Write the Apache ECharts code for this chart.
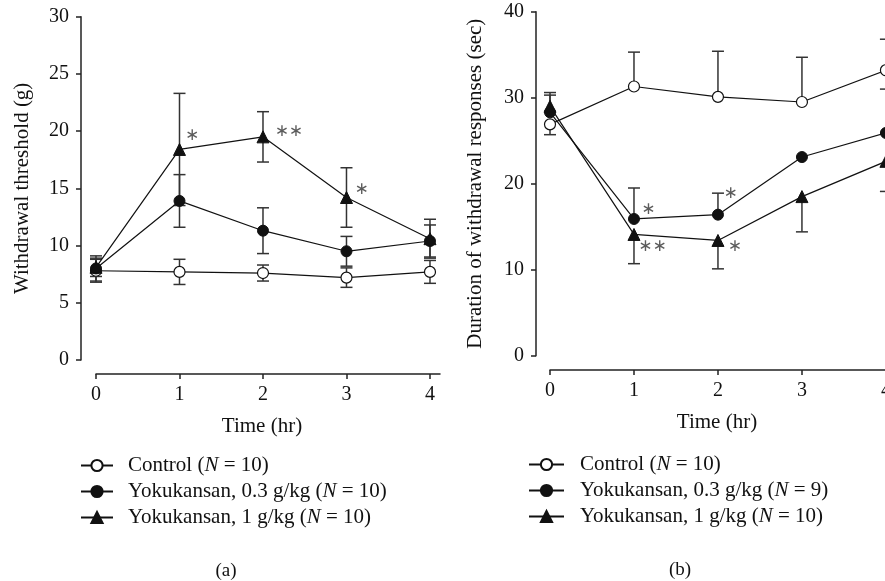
<!DOCTYPE html>
<html><head><meta charset="utf-8">
<script src="https://cdn.jsdelivr.net/npm/echarts@6/dist/echarts.min.js"></script>
<style>html,body{margin:0;padding:0;background:#fff}#c{width:885px;height:581px}</style>
</head><body><div id="c"></div>
<script>
// ---------- data ----------
const timeTicks = [0, 1, 2, 3, 4];
const hours = [0, 1, 2, 3, 4];

// panel (a): withdrawal threshold (g), symmetric error bars
const aControl = [7.8, 7.7, 7.6, 7.2, 7.7];
const aControlErr = [1.0, 1.1, 0.7, 0.85, 1.0];
const aLow = [8.0, 13.9, 11.3, 9.5, 10.4];
const aLowErr = [1.1, 2.3, 2.0, 1.3, 1.4];
const aHigh = [8.1, 18.4, 19.5, 14.2, 10.6];
const aHighErr = [0.8, 4.9, 2.2, 2.6, 1.7];
const aTicks = [0, 5, 10, 15, 20, 25, 30];

// panel (b): duration of withdrawal responses (sec), one-sided error bars
const bControl = [26.9, 31.3, 30.1, 29.5, 33.2];
const bControlUp = [0, 4.0, 5.3, 5.2, 3.6];
const bControlDown = [1.2, 0, 0, 0, 0];
const bLow = [28.3, 15.9, 16.4, 23.1, 25.9];
const bLowUp = [2.0, 3.6, 2.5, 0, 5.1];
const bLowDown = [0, 0, 0, 0, 0];
const bHigh = [29.0, 14.1, 13.4, 18.5, 22.6];
const bHighUp = [1.6, 0, 0, 0, 0];
const bHighDown = [0, 3.4, 3.3, 4.1, 3.5];
const bTicks = [0, 10, 20, 30, 40];

// significance marks
const aStarX = [1.15, 2.31, 3.18];
const aStarY = [19.6, 20.0, 14.9];
const aStarText = ['\u2217', '\u2217\u2217', '\u2217'];
const bStarX = [1.17, 1.22, 2.15, 2.20];
const bStarY = [17.0, 12.7, 18.9, 12.7];
const bStarText = ['\u2217', '\u2217\u2217', '\u2217', '\u2217'];

const namesA = ['Control (N = 10)', 'Yokukansan, 0.3 g/kg (N = 10)', 'Yokukansan, 1 g/kg (N = 10)'];
const namesB = ['Control (N = 10)', 'Yokukansan, 0.3 g/kg (N = 9)', 'Yokukansan, 1 g/kg (N = 10)'];

// ---------- chart ----------
const FONT = 'Liberation Serif';
const INK = '#111';
const chart = echarts.init(document.getElementById('c'), null, {renderer: 'canvas'});

function pts(vals) { return hours.map((h, i) => [h, vals[i]]); }
function errData(vals, up, down) { return hours.map((h, i) => [h, vals[i], up[i], down[i]]); }
function starData(xs, ys, ts) { return xs.map((x, i) => [x, ys[i], ts[i]]); }

function renderErr(params, api) {
  const x = api.value(0), y = api.value(1), up = api.value(2), dn = api.value(3);
  const c = api.coord([x, y]);
  const half = 6;
  const st = {stroke: '#333', lineWidth: 1.5};
  const ch = [];
  if (up > 0) {
    const t = api.coord([x, y + up]);
    ch.push({type: 'line', shape: {x1: c[0], y1: c[1], x2: t[0], y2: t[1]}, style: st});
    ch.push({type: 'line', shape: {x1: t[0] - half, y1: t[1], x2: t[0] + half, y2: t[1]}, style: st});
  }
  if (dn > 0) {
    const b = api.coord([x, y - dn]);
    ch.push({type: 'line', shape: {x1: c[0], y1: c[1], x2: b[0], y2: b[1]}, style: st});
    ch.push({type: 'line', shape: {x1: b[0] - half, y1: b[1], x2: b[0] + half, y2: b[1]}, style: st});
  }
  return {type: 'group', children: ch};
}

// grid index: panel p -> data grid 3p, y-axis grid 3p+1, x-axis grid 3p+2
function errSeries(data, p) {
  return {type: 'custom', renderItem: renderErr, data: data, xAxisIndex: 3 * p, yAxisIndex: 3 * p, z: 1, silent: true, clip: false};
}
const styles = [
  {symbol: 'circle', size: 11, itemStyle: {color: '#fff', borderColor: INK, borderWidth: 1.2}},
  {symbol: 'circle', size: 11, itemStyle: {color: INK, borderColor: INK, borderWidth: 1}},
  {symbol: 'triangle', size: 12, itemStyle: {color: INK, borderColor: INK, borderWidth: 1}}
];
function lineSeries(name, vals, k, p) {
  return {
    type: 'line', name: name, data: pts(vals), xAxisIndex: 3 * p, yAxisIndex: 3 * p,
    symbol: styles[k].symbol, symbolSize: styles[k].size, itemStyle: styles[k].itemStyle,
    lineStyle: {color: INK, width: 1.2}, z: 3 + k, animation: false, clip: false
  };
}
function starSeries(data, p) {
  return {
    type: 'scatter', data: data, xAxisIndex: 3 * p, yAxisIndex: 3 * p, symbolSize: 1,
    itemStyle: {color: 'rgba(0,0,0,0)'}, z: 5, silent: true,
    label: {show: true, position: 'inside', formatter: q => q.value[2], color: '#333',
      fontFamily: 'DejaVu Sans', fontSize: 17, align: 'center', verticalAlign: 'middle'}
  };
}

const axisLineStyle = {color: '#222', width: 1.5};
const XMAX = 4.12;
function hiddenX(gi) { return {type: 'value', gridIndex: gi, min: 0, max: XMAX, show: false}; }
function hiddenY(gi, max) { return {type: 'value', gridIndex: gi, min: 0, max: max, show: false}; }
function shownX(gi) {
  return {
    type: 'value', gridIndex: gi, min: 0, max: XMAX, interval: 1,
    name: 'Time (hr)', nameLocation: 'middle', nameGap: 42, nameMoveOverlap: false,
    nameTextStyle: {fontFamily: FONT, fontSize: 21, color: INK, padding: [0, 12, 0, 0]},
    axisLine: {show: true, lineStyle: axisLineStyle},
    axisTick: {show: true, length: 5, inside: false, lineStyle: axisLineStyle, customValues: timeTicks},
    axisLabel: {fontFamily: FONT, fontSize: 20, color: INK, margin: 11, customValues: timeTicks},
    splitLine: {show: false}
  };
}
function shownY(gi, max, interval, name, gap, ticks) {
  return {
    type: 'value', gridIndex: gi, min: 0, max: max, interval: interval,
    name: name, nameLocation: 'middle', nameGap: gap, nameMoveOverlap: false,
    nameTextStyle: {fontFamily: FONT, fontSize: 21, color: INK},
    axisLine: {show: true, lineStyle: axisLineStyle},
    axisTick: {show: true, length: 5, inside: false, lineStyle: axisLineStyle, customValues: ticks},
    axisLabel: {fontFamily: FONT, fontSize: 20, color: INK, margin: 12, customValues: ticks},
    splitLine: {show: false}
  };
}
function legendFmt(name) {
  const m = name.match(/^(.*\()N( = .*)$/);
  if (!m) return name;
  return '{t|' + m[1] + '}{i|N}{t|' + m[2] + '}';
}
function legend(names, left, top, itemWidth, pad) {
  return {
    data: names, orient: 'vertical', left: left, top: top, itemWidth: itemWidth, itemHeight: 14,
    itemGap: 5, selectedMode: false, formatter: legendFmt,
    textStyle: {fontFamily: FONT, fontSize: 21, color: INK, padding: [0, 0, 0, pad],
      rich: {t: {fontFamily: FONT, fontSize: 21, color: INK},
             i: {fontFamily: FONT, fontSize: 21, color: INK, fontStyle: 'italic'}}}
  };
}
function grid(left, top, width, height) {
  return {left: left, top: top, width: width, height: height, outerBoundsMode: 'none', containLabel: false};
}

const option = {
  animation: false,
  backgroundColor: '#fff',
  title: [
    {text: '(a)', left: 221, top: 557, textAlign: 'center', textStyle: {fontFamily: FONT, fontSize: 19, fontWeight: 'normal', color: INK}},
    {text: '(b)', left: 675, top: 556, textAlign: 'center', textStyle: {fontFamily: FONT, fontSize: 19, fontWeight: 'normal', color: INK}}
  ],
  grid: [
    grid(96, 16.7, 344, 343.3),   // (a) data
    grid(81, 16.7, 359, 343.3),   // (a) y-axis
    grid(96, 16.7, 344, 357.3),   // (a) x-axis
    grid(550, 11.7, 346, 344),    // (b) data
    grid(536, 11.7, 360, 344),    // (b) y-axis
    grid(550, 11.7, 346, 358.3)   // (b) x-axis
  ],
  xAxis: [
    hiddenX(0), hiddenX(1), shownX(2),
    hiddenX(3), hiddenX(4), shownX(5)
  ],
  yAxis: [
    hiddenY(0, 30), shownY(1, 30, 5, 'Withdrawal threshold (g)', 48, aTicks), hiddenY(2, 30),
    hiddenY(3, 40), shownY(4, 40, 10, 'Duration of withdrawal responses (sec)', 50, bTicks), hiddenY(5, 40)
  ],
  legend: [legend(namesA, 75, 450, 32, 10), legend(namesB, 523, 449, 35, 11)],
  series: [
    errSeries(errData(aControl, aControlErr, aControlErr), 0),
    errSeries(errData(aLow, aLowErr, aLowErr), 0),
    errSeries(errData(aHigh, aHighErr, aHighErr), 0),
    lineSeries(namesA[0], aControl, 0, 0),
    lineSeries(namesA[1], aLow, 1, 0),
    lineSeries(namesA[2], aHigh, 2, 0),
    starSeries(starData(aStarX, aStarY, aStarText), 0),
    errSeries(errData(bControl, bControlUp, bControlDown), 1),
    errSeries(errData(bLow, bLowUp, bLowDown), 1),
    errSeries(errData(bHigh, bHighUp, bHighDown), 1),
    lineSeries(namesB[0], bControl, 0, 1),
    lineSeries(namesB[1], bLow, 1, 1),
    lineSeries(namesB[2], bHigh, 2, 1),
    starSeries(starData(bStarX, bStarY, bStarText), 1)
  ]
};
chart.setOption(option);
</script>
</body></html>
